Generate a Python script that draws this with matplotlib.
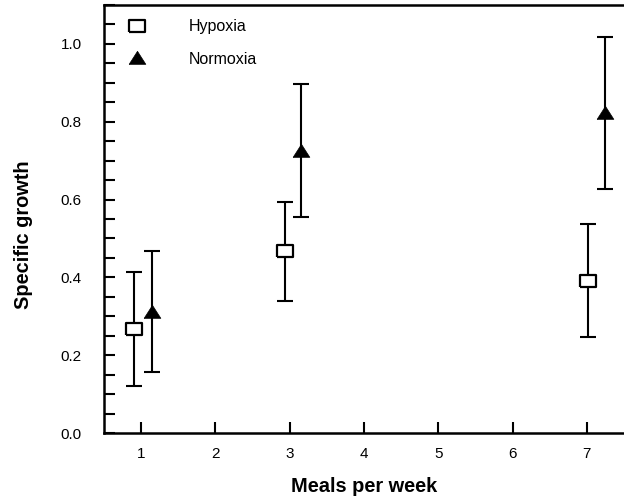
import numpy as np
import matplotlib
matplotlib.use("Agg")
from matplotlib import pyplot as plt
from matplotlib.ticker import MultipleLocator

plt.rcParams['font.family'] = ['Liberation Sans', 'DejaVu Sans']

# data (x slightly offset per group as in the original)
hyp_x = [0.91, 2.94, 7.02]
hyp_y = [0.268, 0.467, 0.391]
hyp_err = [0.147, 0.127, 0.145]

nor_x = [1.15, 3.15, 7.24]
nor_y = [0.312, 0.726, 0.823]
nor_err = [0.155, 0.170, 0.195]

# slightly flattened markers like the original
rect = [(-1, -0.78), (1, -0.78), (1, 0.78), (-1, 0.78), (-1, -0.78)]
tri = [(-1, -0.7), (1, -0.7), (0, 0.86), (-1, -0.7)]

fig = plt.figure(figsize=(6.24, 4.98), dpi=100)
ax = fig.add_axes([104/624, 65/498, 520/624, 428/498])

ax.errorbar(hyp_x, hyp_y, yerr=hyp_err, fmt='none', ecolor='black',
            elinewidth=1.5, capsize=5.8, capthick=1.5, zorder=2)
ax.errorbar(nor_x, nor_y, yerr=nor_err, fmt='none', ecolor='black',
            elinewidth=1.5, capsize=5.8, capthick=1.5, zorder=2)
ax.plot(hyp_x, hyp_y, marker=rect, ms=11, mfc='white', mec='black', mew=1.6,
        ls='none', label='Hypoxia', zorder=3)
ax.plot(nor_x, nor_y, marker=tri, ms=12, mfc='black', mec='black', mew=0.5,
        ls='none', label='Normoxia', zorder=3)

ax.set_xlim(0.5, 7.5)
ax.set_ylim(0, 1.1)
ax.xaxis.set_major_locator(MultipleLocator(1))
ax.yaxis.set_major_locator(MultipleLocator(0.2))
ax.yaxis.set_minor_locator(MultipleLocator(0.05))
ax.yaxis.set_major_formatter(plt.FormatStrFormatter('%.1f'))

ax.tick_params(axis='both', which='both', direction='in', width=1.5,
               length=8, labelsize=11)
ax.tick_params(axis='y', which='both', pad=16)
ax.tick_params(axis='x', pad=10)
ax.tick_params(top=False, right=False)

for s in ['left', 'bottom', 'top']:
    ax.spines[s].set_linewidth(1.8)
ax.spines['right'].set_visible(False)

ax.set_xlabel('Meals per week', fontsize=14.4, fontweight='bold')
ax.set_ylabel('Specific growth', fontsize=14.4, fontweight='bold')
ax.xaxis.set_label_coords(0.5, -0.102)
ax.yaxis.set_label_coords(-0.1365, 0.463)

ax.legend(loc='upper left', bbox_to_anchor=(0.040, 0.967), frameon=False,
          fontsize=11.5, handletextpad=2.5, labelspacing=1.09,
          borderaxespad=0, borderpad=0, handlelength=1.5)

fig.savefig('out.png', dpi=100)
